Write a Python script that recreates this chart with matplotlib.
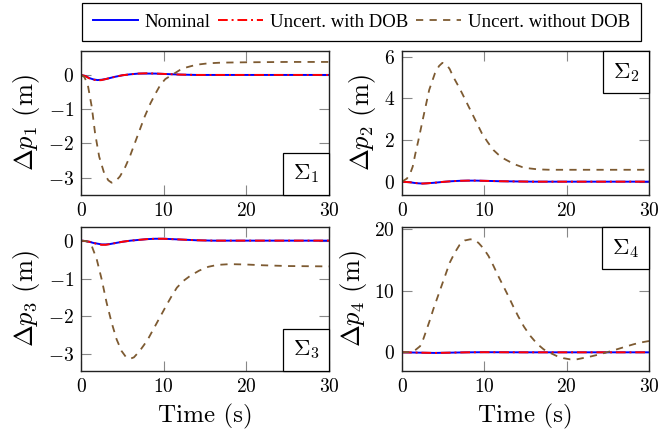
import matplotlib
matplotlib.use("Agg")
import matplotlib.pyplot as plt
from matplotlib.offsetbox import AnchoredText

plt.rcParams['font.family'] = 'serif'
plt.rcParams['font.serif'] = ['cmr10', 'DejaVu Serif']
plt.rcParams['mathtext.fontset'] = 'cm'
plt.rcParams['axes.formatter.use_mathtext'] = True
plt.rcParams['axes.unicode_minus'] = True

# ---- data ----
# panel 1
t1_nom = [0, 0.5, 1, 1.5, 2, 2.5, 3, 3.5, 4, 5, 6, 7, 8, 9, 10, 11, 12, 14, 16, 20, 30]
p1_nom = [0, -0.03, -0.09, -0.13, -0.15, -0.14, -0.12, -0.09, -0.06, -0.01, 0.02, 0.04, 0.04, 0.04, 0.03, 0.02, 0.01, 0.0, 0, 0, 0]
p1_dob = [0, -0.03, -0.10, -0.14, -0.16, -0.15, -0.12, -0.09, -0.06, -0.01, 0.02, 0.04, 0.05, 0.04, 0.03, 0.02, 0.01, 0, 0, 0, 0]
t1_wo = [0, 0.4, 0.8, 1.3, 1.7, 2.2, 2.8, 3.3, 3.7, 4.2, 4.7, 5.3, 5.9, 6.5, 7.1, 7.7, 8.4, 9.0, 9.6,
         10.2, 10.8, 11.4, 12.0, 12.6, 13.2, 14.0, 15.4, 17, 20, 25, 30]
p1_wo = [0, -0.06, -0.26, -0.93, -1.70, -2.39, -2.87, -3.08, -3.15, -3.10, -2.97, -2.72, -2.39, -2.00,
         -1.61, -1.22, -0.83, -0.55, -0.29, -0.12, -0.03, 0.06, 0.15, 0.21, 0.25, 0.30, 0.34, 0.36, 0.37, 0.38, 0.38]

# panel 2
t2_nom = [0, 1, 1.5, 2, 2.5, 3, 4, 5, 6, 7, 8, 9, 10, 12, 14, 16, 30]
p2_nom = [0, -0.03, -0.06, -0.08, -0.09, -0.08, -0.05, -0.01, 0.02, 0.04, 0.05, 0.05, 0.04, 0.02, 0.01, 0, 0]
p2_dob = [0, -0.03, -0.06, -0.08, -0.09, -0.08, -0.05, -0.01, 0.02, 0.04, 0.05, 0.05, 0.04, 0.02, 0.01, 0, 0]
t2_wo = [0, 0.6, 1.0, 1.3, 1.6, 2.0, 2.6, 3.3, 4.0, 4.5, 4.9, 5.4, 5.8, 6.2, 6.8, 7.3, 7.9, 8.5, 9.1,
         9.7, 10.4, 11.1, 11.7, 12.3, 13.1, 13.9, 14.6, 15.4, 16.5, 18, 20, 25, 30]
p2_wo = [0, 0.15, 0.40, 0.72, 1.30, 2.00, 3.12, 4.40, 5.20, 5.55, 5.70, 5.62, 5.40, 5.05, 4.62, 4.24,
         3.76, 3.28, 2.80, 2.32, 1.90, 1.52, 1.30, 1.12, 0.95, 0.80, 0.70, 0.64, 0.59, 0.57, 0.57, 0.57, 0.57]

# panel 3
t3_nom = [0, 0.5, 1, 1.5, 2, 2.5, 3, 3.5, 4, 5, 6, 7, 8, 9, 10, 11, 12, 14, 16, 20, 30]
p3_nom = [0, -0.01, -0.03, -0.06, -0.08, -0.10, -0.10, -0.09, -0.07, -0.03, 0.0, 0.02, 0.04, 0.05, 0.05, 0.04, 0.03, 0.01, 0, 0, 0]
p3_dob = [0, -0.01, -0.03, -0.06, -0.09, -0.11, -0.11, -0.09, -0.07, -0.03, 0.0, 0.02, 0.04, 0.05, 0.05, 0.04, 0.03, 0.01, 0, 0, 0]
t3_wo = [0, 0.6, 1.0, 1.3, 1.9, 2.5, 3.1, 3.7, 4.3, 4.9, 5.4, 5.9, 6.4, 7.1, 7.6, 8.1, 8.6, 9.2, 9.8,
         10.4, 11.0, 11.6, 12.4, 13.2, 14.3, 15.4, 16.5, 18, 20, 22, 25, 30]
p3_wo = [0, -0.01, -0.05, -0.14, -0.49, -1.02, -1.64, -2.16, -2.60, -2.91, -3.06, -3.12, -3.08, -2.91,
         -2.76, -2.60, -2.40, -2.16, -1.92, -1.68, -1.45, -1.24, -1.06, -0.93, -0.79, -0.69, -0.64,
         -0.62, -0.63, -0.65, -0.67, -0.68]

# panel 4
t4_nom = [0, 2, 4, 6, 8, 10, 15, 20, 30]
p4_nom = [0, -0.05, -0.1, -0.05, 0, 0.02, 0, 0, 0]
p4_dob = [0, -0.05, -0.1, -0.05, 0, 0.02, 0, 0, 0]
t4_wo = [0, 1.0, 1.6, 2.2, 2.6, 3.0, 3.4, 3.8, 4.3, 4.8, 5.3, 5.8, 6.4, 7.0, 7.6, 8.3, 8.8, 9.3, 9.9,
         10.5, 11.1, 11.7, 12.3, 12.9, 13.5, 14.1, 14.8, 15.6, 16.4, 17.2, 18.0, 18.8, 19.6, 20.4,
         21.2, 22.0, 23.0, 24.0, 25.0, 26.1, 27.1, 28.1, 29.0, 30]
p4_wo = [0, 0.05, 0.35, 1.0, 2.2, 3.74, 5.3, 7.0, 8.9, 10.8, 12.7, 14.6, 16.2, 17.5, 18.2, 18.4, 18.3,
         17.8, 16.9, 15.7, 14.1, 12.4, 10.8, 9.2, 7.5, 5.9, 4.2, 2.65, 1.4, 0.49, -0.1, -0.6, -0.95,
         -1.14, -1.15, -0.93, -0.65, -0.33, 0.05, 0.49, 0.9, 1.3, 1.6, 1.84]

x_ticks = [0, 10, 20, 30]
y_ticks = [[-3, -2, -1, 0], [0, 2, 4, 6], [-3, -2, -1, 0], [0, 10, 20]]
y_lims = [(-3.51, 0.70), (-0.64, 6.27), (-3.44, 0.36), (-3.04, 20.4)]
y_labels = [r'$\Delta p_1$ (m)', r'$\Delta p_2$ (m)', r'$\Delta p_3$ (m)', r'$\Delta p_4$ (m)']
sigmas = [r'$\Sigma_1$', r'$\Sigma_2$', r'$\Sigma_3$', r'$\Sigma_4$']
sigma_loc = ['lower right', 'upper right', 'lower right', 'upper right']

panels = [
    (t1_nom, p1_nom, p1_dob, t1_wo, p1_wo),
    (t2_nom, p2_nom, p2_dob, t2_wo, p2_wo),
    (t3_nom, p3_nom, p3_dob, t3_wo, p3_wo),
    (t4_nom, p4_nom, p4_dob, t4_wo, p4_wo),
]

W, H = 660, 441
fig = plt.figure(figsize=(W / 100, H / 100), dpi=100)

# axes boxes in pixels: left, top, right, bottom
boxes = [(81, 51, 329, 195), (402, 51, 649, 195), (81, 227, 329, 371), (402, 227, 649, 371)]

brown = '#7d5a31'
handles = None
for i, (box, data) in enumerate(zip(boxes, panels)):
    l, t, r, b = box
    ax = fig.add_axes([l / W, 1 - b / H, (r - l) / W, (b - t) / H])
    tn, pn, pd, tw, pw = data
    h1, = ax.plot(tn, pn, color='blue', lw=1.4, label='Nominal')
    h2, = ax.plot(tn, pd, color='red', lw=1.4, ls=(0, (5, 2, 1, 2)), label='Uncert. with DOB')
    h3, = ax.plot(tw, pw, color=brown, lw=1.3, ls=(0, (4, 3.5)), label='Uncert. without DOB')
    handles = [h1, h2, h3]

    ax.set_xlim(0, 30)
    ax.set_ylim(*y_lims[i])
    ax.set_xticks(x_ticks)
    ax.set_yticks(y_ticks[i])
    ax.tick_params(direction='in', top=True, right=True, length=7, width=0.8,
                   color='#888888', labelsize=14, pad=5)
    for s in ax.spines.values():
        s.set_linewidth(1.0)
        s.set_color('#222222')
    ax.set_ylabel(y_labels[i], fontsize=19, labelpad=4)
    if i >= 2:
        ax.set_xlabel('Time (s)', fontsize=18, labelpad=6)

    at = AnchoredText(sigmas[i], loc=sigma_loc[i], prop=dict(size=16.5),
                      frameon=True, borderpad=0, pad=0.42)
    at.patch.set_edgecolor('black')
    at.patch.set_linewidth(0.9)
    at.patch.set_boxstyle('square,pad=0')
    ax.add_artist(at)

leg = fig.legend(handles=handles, loc='center', bbox_to_anchor=(361.5 / W, 1 - 22 / H),
                 ncol=3, frameon=True, fancybox=False, edgecolor='black',
                 prop=dict(family='Liberation Serif', size=13.5),
                 framealpha=1, handlelength=2.4, handletextpad=0.36, columnspacing=0.4,
                 borderpad=0.58, borderaxespad=0)
leg.get_frame().set_linewidth(0.9)

fig.savefig('out.png', dpi=100)
